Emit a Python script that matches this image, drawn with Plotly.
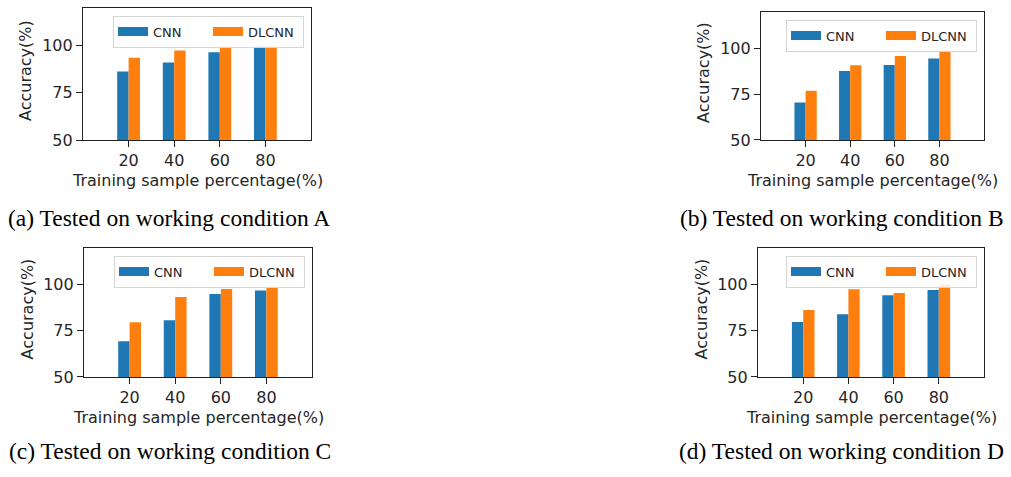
import plotly.graph_objects as go

W, H = 1011, 477

# Training sample percentages (x categories) and y ticks
percentages = ["20", "40", "60", "80"]
y_ticks = [50, 75, 100]

# Accuracy (%) per working condition
cnn_a = [86.3, 91.0, 96.5, 99.5]
dlcnn_a = [93.6, 97.4, 99.5, 99.5]

cnn_b = [70.5, 87.6, 91.0, 94.5]
dlcnn_b = [76.9, 90.8, 95.9, 98.4]

cnn_c = [69.3, 80.7, 94.9, 96.8]
dlcnn_c = [79.6, 93.3, 97.6, 98.8]

cnn_d = [79.8, 84.0, 94.3, 97.1]
dlcnn_d = [86.2, 97.5, 95.4, 100.0]

captions = [
    "(a) Tested on working condition A",
    "(b) Tested on working condition B",
    "(c) Tested on working condition C",
    "(d) Tested on working condition D",
]
series_names = ["CNN", "DLCNN"]

BLUE = "#1f77b4"
ORANGE = "#ff7f0e"
TEXT = "#262626"
SANS = "DejaVu Sans"
SERIF = "Liberation Serif, Times New Roman, serif"

# plot-area boxes in pixels: left, right, top, bottom; caption left x and center y
layout_boxes = [
    dict(box=(83, 311, 8, 143), cap=(6, 223)),
    dict(box=(761, 984, 12, 143), cap=(678, 223)),
    dict(box=(84, 312, 253, 385), cap=(7, 461)),
    dict(box=(758, 984, 253, 385), cap=(677, 461)),
]
data = [(cnn_a, dlcnn_a), (cnn_b, dlcnn_b), (cnn_c, dlcnn_c), (cnn_d, dlcnn_d)]


def px_x(v):
    return v / W


def px_y(v):
    return 1 - v / H


fig = go.Figure()
annotations = []
layout = dict(
    width=W, height=H,
    margin=dict(l=0, r=0, t=0, b=0),
    paper_bgcolor="white", plot_bgcolor="white",
    barmode="group", bargap=0.5, bargroupgap=0,
    font=dict(family=SANS, color=TEXT),
)

for i, ((cnn, dl), spec) in enumerate(zip(data, layout_boxes)):
    n = "" if i == 0 else str(i + 1)
    xa, ya = "x" + n, "y" + n
    leg = "legend" + n
    l, r, t, b = spec["box"]

    for name, vals, color in ((series_names[0], cnn, BLUE), (series_names[1], dl, ORANGE)):
        fig.add_trace(go.Bar(
            x=percentages, y=vals, name=name, marker=dict(color=color, line=dict(width=0)),
            xaxis=xa, yaxis=ya, showlegend=False, legendgroup=name + n,
        ))
    # legend swatches (wide patches)
    for name, color in ((series_names[0], BLUE), (series_names[1], ORANGE)):
        fig.add_trace(go.Scatter(
            x=[None], y=[None], mode="lines", name=name,
            line=dict(color=color, width=9), xaxis=xa, yaxis=ya,
            legend=leg, legendgroup=name + n, hoverinfo="skip",
        ))

    layout["xaxis" + n] = dict(
        domain=[px_x(l), px_x(r)], anchor=ya, type="category",
        range=[-1, 4], showline=True, mirror=True, linecolor="#222", linewidth=1.2,
        ticks="outside", ticklen=6, tickcolor="#222", tickwidth=1.2,
        tickfont=dict(size=16, family=SANS, color=TEXT), showgrid=False, zeroline=False,
    )
    layout["yaxis" + n] = dict(
        domain=[px_y(b), px_y(t)], anchor=xa,
        range=[50, 120], tickvals=y_ticks, showline=True, mirror=True,
        linecolor="#222", linewidth=1.2, ticks="outside", ticklen=6,
        tickcolor="#222", tickwidth=1.2,
        tickfont=dict(size=16, family=SANS, color=TEXT), showgrid=False, zeroline=False,
    )
    layout[leg] = dict(
        orientation="h", x=px_x(r - 7), y=px_y(t + 8), xanchor="right", yanchor="top",
        bgcolor="rgba(255,255,255,0.85)", bordercolor="#d6d6d6", borderwidth=1,
        font=dict(size=13, family=SANS, color=TEXT),
        entrywidth=50, entrywidthmode="pixels", itemwidth=30,
        itemclick=False, itemdoubleclick=False,
    )

    annotations.append(dict(
        text="Training sample percentage(%)", xref="paper", yref="paper",
        x=px_x((l + r) / 2), y=px_y(b + 41), xanchor="center", yanchor="middle",
        showarrow=False, font=dict(size=16, family=SANS, color=TEXT),
    ))
    annotations.append(dict(
        text="Accuracy(%)", xref="paper", yref="paper", textangle=-90,
        x=px_x(l - 57), y=px_y((t + b) / 2 - 3), xanchor="center", yanchor="middle",
        showarrow=False, font=dict(size=16, family=SANS, color=TEXT),
    ))
    cx, cy = spec["cap"]
    annotations.append(dict(
        text=captions[i], xref="paper", yref="paper",
        x=px_x(cx), y=px_y(cy), xanchor="left", yanchor="middle",
        showarrow=False, font=dict(size=23.5, family=SERIF, color="black"),
    ))

layout["annotations"] = annotations
fig.update_layout(**layout)
fig.write_html("out.html")
